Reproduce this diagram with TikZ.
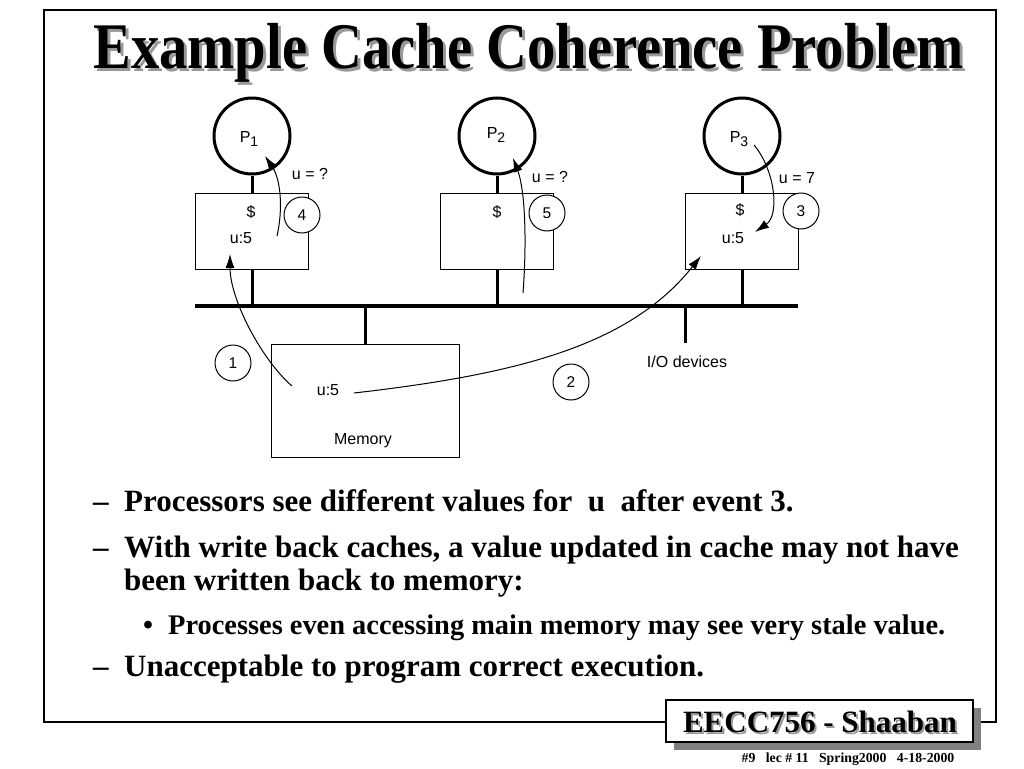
\documentclass[tikz,border=0pt]{standalone}
\usepackage{fontspec}
\setmainfont{Liberation Serif}
\setsansfont{Liberation Sans}
\usetikzlibrary{arrows.meta}
\newcommand{\psub}[1]{P\raisebox{-4pt}{\fontsize{14}{14}\selectfont #1}}
\begin{document}
\begin{tikzpicture}[x=1pt,y=-1pt,
  thickline/.style={line width=3pt},
  proc/.style={circle, draw, line width=3pt, minimum size=76pt, inner sep=0pt},
  cachebox/.style={draw, line width=1pt, minimum width=113pt, minimum height=76pt, inner sep=0pt},
  num/.style={circle, draw, fill=white, line width=1pt, minimum size=36pt, inner sep=0pt, font=\sffamily\fontsize{15.5}{15.5}\selectfont},
  lbl/.style={font=\sffamily\fontsize{16}{16}\selectfont, inner sep=0pt},
  arr/.style={line width=1pt, -{Latex[length=14pt,width=9pt]}},
  btext/.style={anchor=base west, inner sep=0pt, font=\bfseries\fontsize{31}{33}\selectfont},
  stext/.style={anchor=base west, inner sep=0pt, font=\bfseries\fontsize{28.4}{30}\selectfont},
  titlefont/.style={anchor=base, inner sep=0pt, font=\bfseries\fontsize{56.6}{60}\selectfont},
]
\useasboundingbox (0,0) rectangle (1024,768);
\fill[white] (0,0) rectangle (1024,768);
% frame
\draw[line width=2.5pt] (44,10) rectangle (996,722);
% title
\node[titlefont, text=black!40] (titleshadow) at (531.5,71) {\scalebox{1}[1.15]{Example Cache Coherence Problem}};
\node[titlefont] (title) at (528.5,68) {\scalebox{1}[1.15]{Example Cache Coherence Problem}};

% processors
\node[proc] (P1) at (252,136) {};
\node[proc] (P2) at (497,136) {};
\node[proc] (P3) at (742,136) {};
\node[lbl] (p1t) at (249,139) {\psub{1}};
\node[lbl] (p2t) at (496,135) {\psub{2}};
\node[lbl] (p3t) at (739,139) {\psub{3}};

% caches
\node[cachebox] (C1) at (251.5,231) {};
\node[cachebox] (C2) at (496.5,231) {};
\node[cachebox] (C3) at (741.5,231) {};

% bus
\coordinate (busL) at (195,306);
\coordinate (busR) at (798,306);
\draw[line width=4pt] (busL) -- (busR);

\foreach \i in {1,2,3}{
  \draw[thickline] (P\i.south) -- (P\i.south |- C\i.north);
  \draw[thickline] (P\i.south |- C\i.south) -- (P\i.south |- busL);
}

% memory
\node[cachebox, minimum width=188pt, minimum height=113pt] (M) at (365.5,400.5) {};
\draw[thickline] (M.north) -- (M.north |- busL);
% I/O
\coordinate (io) at (685,343);
\draw[thickline] (io) -- (io |- busL);
\node[lbl] (iot) at (687,362) {I/O devices};

% labels in boxes
\node[lbl] (d1) at (251,212) {\$};
\node[lbl] (u1) at (241,238) {u:5};
\node[lbl] (d2) at (497,212) {\$};
\node[lbl] (d3) at (740,210) {\$};
\node[lbl] (u3) at (733,238) {u:5};
\node[lbl] (um) at (328,390) {u:5};
\node[lbl] (mt) at (363,441) {Memory};

\node[lbl] (q1) at (310,174) {u = ?};
\node[lbl] (q2) at (550,177) {u = ?};
\node[lbl] (q3) at (797,178) {u = 7};

% event numbers
\node[num] (n4) at (302,215) {4};
\node[num] (n5) at (547,213) {5};
\node[num] (n3) at (801,211) {3};
\node[num] (n1) at (233,363) {1};
\node[num] (n2) at (571,382) {2};

% arrows
\coordinate (a1s) at (292,386);
\coordinate (a1e) at (230,254);
\draw[arr] (a1s) .. controls (262,360) and (230,300) .. (a1e);
\coordinate (a2s) at (354,393);
\coordinate (a2e) at (701,256);
\draw[arr] (a2s) .. controls (520,374) and (630,345) .. (a2e);
\coordinate (a3s) at (754,145);
\coordinate (a3e) at (755,232);
\draw[arr] (a3s) .. controls (775,170) and (780,215) .. (a3e);
\coordinate (a4s) at (277,236);
\coordinate (a4e) at (265,156);
\draw[arr] (a4s) .. controls (283,210) and (281,180) .. (a4e);
\coordinate (a5s) at (523,293);
\coordinate (a5e) at (513,158);
\draw[arr] (a5s) .. controls (527,240) and (525,190) .. (a5e);

% bullet text
\node[btext] (b1d) at (93,511) {--};
\node[btext] (b1) at (124,511) {Processors see different values for\ \ u\ \ after event 3.};
\node[btext] (b2d) at (93,557) {--};
\node[btext] (b2) at (124,557) {With write back caches, a value updated in cache may not have};
\node[btext] (b2b) at (124,590) {been written back to memory:};
\node[stext] (b3d) at (143,634) {\textbullet};
\node[stext] (b3) at (168,634) {Processes even accessing main memory may see very stale value.};
\node[btext] (b4d) at (93,676) {--};
\node[btext] (b4) at (124,676) {Unacceptable to program correct execution.};

% footer
\fill[black!50] (674,708) rectangle (981,750);
\node[draw, fill=white, line width=1.5pt, minimum width=307pt, minimum height=42pt, inner sep=0pt] (foot) at (819.5,721) {};
\node[inner sep=0pt, text=black!40, font=\bfseries\fontsize{31}{31}\selectfont] (footsh) at (822,724) {EECC756 - Shaaban};
\node[inner sep=0pt, font=\bfseries\fontsize{31}{31}\selectfont] (foott) at (820,721.5) {EECC756 - Shaaban};
\node[inner sep=0pt, font=\bfseries\fontsize{13.8}{14}\selectfont] (footsmall) at (848,759) {\#9\ \ \ lec \# 11\ \ \ Spring2000\ \ \ 4-18-2000};
\end{tikzpicture}
\end{document}
